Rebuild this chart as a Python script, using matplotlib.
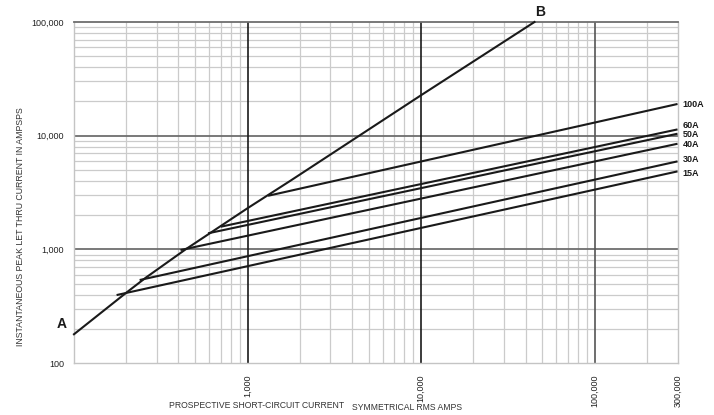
import numpy as np
import matplotlib
matplotlib.use('Agg')
import matplotlib.pyplot as plt
from matplotlib.ticker import FixedLocator, NullFormatter, LogLocator

plt.rcParams['font.family'] = ['Liberation Sans', 'DejaVu Sans']

# Кривая A-B (предельная)
ab_x = [100, 200, 260, 440, 1000, 1760, 10000, 45000]
ab_y = [179, 415, 565, 1000, 2300, 4000, 22700, 100000]

# Линии предохранителей: начало и конец (x = 300 000)
fuse_names = ['15A', '30A', '40A', '50A', '60A', '100A']
fuse_x0 = [176, 239, 411, 592, 701, 1312]
fuse_y0 = [396, 537, 986, 1383, 1581, 2958]
fuse_x1 = [300000, 300000, 300000, 300000, 300000, 300000]
fuse_y1 = [4850, 5940, 8490, 10400, 11350, 19000]
label_y = [4690, 6220, 8430, 10330, 12390, 18970]

x_ticks = [1000, 10000, 100000, 300000]
x_ticklabels = ['1,000', '10,000', '100,000', '300,000']
y_ticks = [100, 1000, 10000, 100000]
y_ticklabels = ['100', '1,000', '10,000', '100,000']

fig = plt.figure(figsize=(7.14, 4.15), dpi=100)
ax = fig.add_axes([0.1036, 0.1253, 0.8453, 0.8217])
ax.set_xscale('log')
ax.set_yscale('log')
ax.set_xlim(100, 300000)
ax.set_ylim(100, 100000)

# сетка
minor = LogLocator(base=10, subs=np.arange(2, 10))
ax.xaxis.set_minor_locator(minor)
ax.yaxis.set_minor_locator(minor)
ax.xaxis.set_minor_formatter(NullFormatter())
ax.yaxis.set_minor_formatter(NullFormatter())
ax.grid(which='minor', color='#cbcbcb', lw=0.9, zorder=1)
for v in [1000, 10000]:
    ax.axhline(v, color='#6e6e6e', lw=1.3, zorder=2)
for v, c in [(1000, '#1a1a1a'), (10000, '#1a1a1a'), (100000, '#555555')]:
    ax.axvline(v, color=c, lw=1.2, zorder=2)

for side in ['left', 'bottom', 'right']:
    ax.spines[side].set_color('#c4c4c4')
    ax.spines[side].set_linewidth(1.0)
ax.spines['top'].set_color('#6e6e6e')
ax.spines['top'].set_linewidth(1.3)

ax.xaxis.set_major_locator(FixedLocator(x_ticks))
ax.set_xticklabels(x_ticklabels, rotation=90, va='top', ha='center')
ax.yaxis.set_major_locator(FixedLocator(y_ticks))
ax.set_yticklabels(y_ticklabels)
ax.tick_params(which='both', length=0)
ax.tick_params(axis='x', pad=8, labelsize=6.5, colors='#222222')
ax.tick_params(axis='y', pad=7, labelsize=6.5, colors='#222222')

# кривые
ax.plot(ab_x, ab_y, color='#1a1a1a', lw=1.5, zorder=3, clip_on=False)
for i in range(len(fuse_names)):
    ax.plot([fuse_x0[i], fuse_x1[i]], [fuse_y0[i], fuse_y1[i]],
            color='#1a1a1a', lw=1.5, zorder=3, solid_capstyle='butt')
    ax.text(fuse_x1[i] * 1.07, label_y[i], fuse_names[i], fontsize=6.5,
            fontweight='bold', va='center', ha='left', color='#1a1a1a')

ax.text(-0.02, 0.114, 'A', transform=ax.transAxes, fontsize=10,
        fontweight='bold', ha='center', va='center', color='#1a1a1a')
ax.text(0.773, 1.03, 'B', transform=ax.transAxes, fontsize=10,
        fontweight='bold', ha='center', va='center', color='#1a1a1a')

fig.text(0.237, 0.023, 'PROSPECTIVE SHORT-CIRCUIT CURRENT', fontsize=6.2,
         ha='left', va='center', color='#333333')
fig.text(0.493, 0.018, 'SYMMETRICAL RMS AMPS', fontsize=6.2,
         ha='left', va='center', color='#333333')
fig.text(0.029, 0.455, 'INSTANTANEOUS PEAK LET THRU CURRENT IN AMPSPS',
         rotation=90, fontsize=6.3, ha='center', va='center', color='#333333')

fig.savefig('out.png', dpi=100)
